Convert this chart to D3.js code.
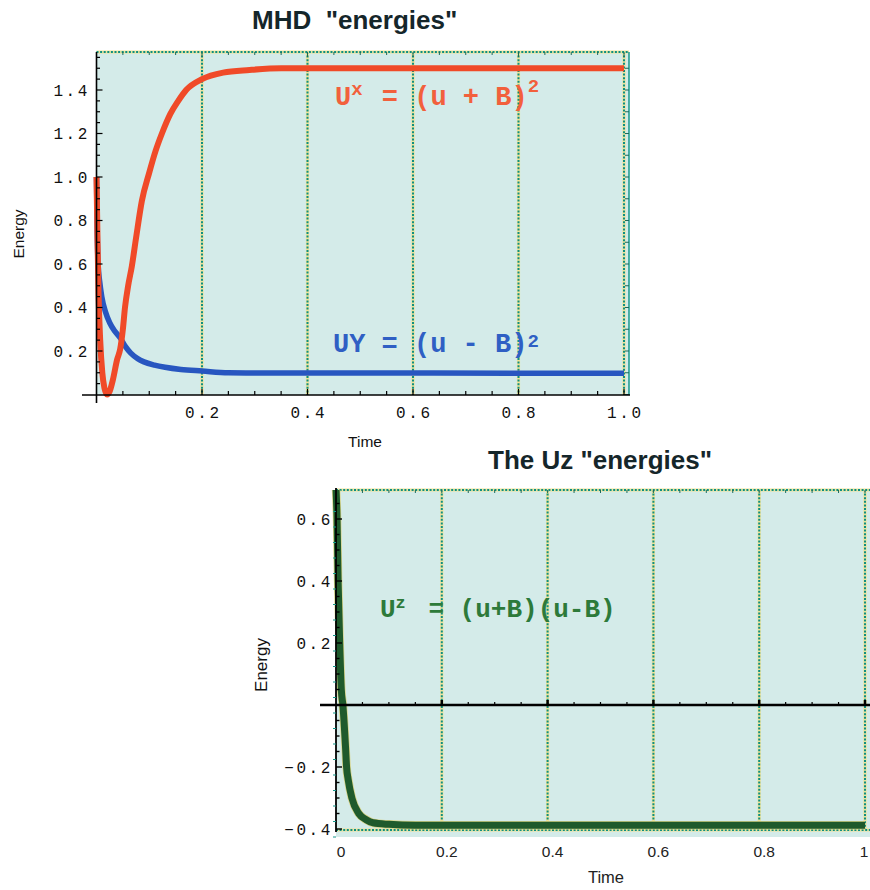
<!DOCTYPE html>
<html>
<head>
<meta charset="utf-8">
<script src="https://cdn.jsdelivr.net/npm/d3@7"></script>
<style>
  html, body { margin: 0; padding: 0; background: #ffffff; }
  svg { display: block; }
  text { white-space: pre; }
</style>
</head>
<body>
<svg id="chart" width="870" height="890"></svg>
<script>
// ---------------- DATA ----------------
// Top chart: MHD "energies"
const redTime   = [0, 0.002, 0.004, 0.007, 0.011, 0.015, 0.02, 0.025, 0.031, 0.039, 0.045, 0.05, 0.054, 0.06, 0.067, 0.075, 0.086, 0.1, 0.112, 0.124, 0.14, 0.155, 0.17, 0.2, 0.24, 0.29, 0.35, 0.5, 1.0];
const redEnergy = [1.0, 0.7, 0.45, 0.25, 0.1, 0.03, 0.0, 0.015, 0.067, 0.16, 0.21, 0.3, 0.4, 0.5, 0.59, 0.72, 0.89, 1.02, 1.12, 1.2, 1.29, 1.35, 1.4, 1.45, 1.48, 1.492, 1.5, 1.5, 1.5];

const blueTime   = [0, 0.001, 0.003, 0.006, 0.01, 0.017, 0.025, 0.035, 0.045, 0.055, 0.065, 0.078, 0.09, 0.11, 0.13, 0.16, 0.2, 0.25, 0.3, 1.0];
const blueEnergy = [1.0, 0.8, 0.6, 0.52, 0.45, 0.38, 0.33, 0.29, 0.26, 0.22, 0.19, 0.165, 0.15, 0.135, 0.125, 0.115, 0.108, 0.1, 0.099, 0.098];

const topYTicks = [0.2, 0.4, 0.6, 0.8, 1.0, 1.2, 1.4];
const topYLabels = ["0.2", "0.4", "0.6", "0.8", "1.0", "1.2", "1.4"];
const topXTicks = [0.2, 0.4, 0.6, 0.8, 1.0];
const topXLabels = ["0.2", "0.4", "0.6", "0.8", "1.0"];

// Bottom chart: The Uz "energies"
const greenTime   = [0, 0.002, 0.004, 0.007, 0.01, 0.013, 0.018, 0.02, 0.023, 0.03, 0.043, 0.057, 0.07, 0.1, 0.15, 1.0];
const greenEnergy = [0.7, 0.6, 0.4, 0.2, 0.05, 0.0, -0.135, -0.2, -0.24, -0.3, -0.35, -0.37, -0.38, -0.385, -0.388, -0.388];

const botYTicks = [-0.4, -0.2, 0.2, 0.4, 0.6];
const botYLabels = ["\u22120.4", "\u22120.2", "0.2", "0.4", "0.6"];
const botXTicks = [0, 0.2, 0.4, 0.6, 0.8, 1.0];
const botXLabels = ["0", "0.2", "0.4", "0.6", "0.8", "1"];

// ---------------- STYLE ----------------
const BG = "#d4ebe9";
const MONO = "'Liberation Mono', 'DejaVu Sans Mono', monospace";
const SANS = "'Liberation Sans', Arial, sans-serif";
const RED = "#f04a28", BLUE = "#2856c0", GREEN = "#1f5a2c";

const svg = d3.select("#chart");

function dotted(g, x1, y1, x2, y2) {
  g.append("line").attr("x1", x1).attr("y1", y1).attr("x2", x2).attr("y2", y2)
    .attr("stroke", "#efe39a").attr("stroke-width", 3.2);
  g.append("line").attr("x1", x1).attr("y1", y1).attr("x2", x2).attr("y2", y2)
    .attr("stroke", "#0d8f82").attr("stroke-width", 2).attr("stroke-dasharray", "2,1.6");
}

// ================= TOP CHART =================
{
  const x = d3.scaleLinear().domain([0, 1]).range([96.5, 624]);
  const y = d3.scaleLinear().domain([0, 1.4]).range([394.5, 90]);
  const L = 96.5, R = 629, T = 52, B = 395;
  const g = svg.append("g");

  g.append("rect").attr("x", L).attr("y", T).attr("width", R - L).attr("height", B - T).attr("fill", BG);

  // vertical dotted gridlines
  topXTicks.forEach(t => dotted(g, x(t), T, x(t), B));
  // top dotted frame
  dotted(g, L, T, R, T);
  // top frame ticks
  d3.range(0, 1.0001, 0.05).forEach(t => {
    const major = Math.abs(t * 5 - Math.round(t * 5)) < 1e-6;
    g.append("line").attr("x1", x(t)).attr("x2", x(t)).attr("y1", T).attr("y2", T + (major ? 5 : 3))
      .attr("stroke", "#1c6a5a").attr("stroke-width", 1);
  });
  // right frame
  g.append("line").attr("x1", R).attr("x2", R).attr("y1", T).attr("y2", B)
    .attr("stroke", "#15978a").attr("stroke-width", 1.5);
  d3.range(0, 1.5001, 0.1).forEach(v => {
    g.append("line").attr("x1", R).attr("x2", R - 4).attr("y1", y(v)).attr("y2", y(v))
      .attr("stroke", "#1c6a5a").attr("stroke-width", 1);
  });

  // lines
  const line = d3.line().curve(d3.curveMonotoneX);
  g.append("path")
    .attr("d", line(blueTime.map((t, i) => [x(t), y(blueEnergy[i])])))
    .attr("fill", "none").attr("stroke", BLUE).attr("stroke-width", 5.5);
  g.append("path")
    .attr("d", line(redTime.map((t, i) => [x(t), y(redEnergy[i])])))
    .attr("fill", "none").attr("stroke", RED).attr("stroke-width", 6);

  // axes
  g.append("line").attr("x1", 82).attr("x2", R + 1).attr("y1", B).attr("y2", B)
    .attr("stroke", "#000").attr("stroke-width", 1.6);
  g.append("line").attr("x1", L).attr("x2", L).attr("y1", T).attr("y2", 403)
    .attr("stroke", "#000").attr("stroke-width", 1.6);
  d3.range(0.05, 1.0001, 0.05).forEach(t => {
    const major = Math.abs(t * 5 - Math.round(t * 5)) < 1e-6;
    g.append("line").attr("x1", x(t)).attr("x2", x(t)).attr("y1", B).attr("y2", B - (major ? 6 : 4))
      .attr("stroke", "#000").attr("stroke-width", 1.2);
  });
  d3.range(0.05, 1.5501, 0.05).forEach(v => {
    const major = Math.abs(v * 5 - Math.round(v * 5)) < 1e-6;
    g.append("line").attr("y1", y(v)).attr("y2", y(v)).attr("x1", L).attr("x2", L + (major ? 6 : 3.5))
      .attr("stroke", "#000").attr("stroke-width", 1.2);
  });

  // tick labels
  g.selectAll(".yl").data(topYTicks).enter().append("text")
    .attr("x", 90).attr("y", d => y(d) + 5.5)
    .attr("text-anchor", "end").attr("font-family", MONO).attr("font-size", 16)
    .attr("letter-spacing", 2.6).attr("fill", "#111")
    .text((d, i) => topYLabels[i]);
  g.selectAll(".xl").data(topXTicks).enter().append("text")
    .attr("x", d => x(d) + 1.3).attr("y", 418)
    .attr("text-anchor", "middle").attr("font-family", MONO).attr("font-size", 16)
    .attr("letter-spacing", 2.6).attr("fill", "#111")
    .text((d, i) => topXLabels[i]);

  // axis titles
  g.append("text").attr("x", 365).attr("y", 447).attr("text-anchor", "middle")
    .attr("font-family", SANS).attr("font-size", 15.5).attr("fill", "#111").text("Time");
  g.append("text").attr("transform", "translate(24,234) rotate(-90)").attr("text-anchor", "middle")
    .attr("font-family", SANS).attr("font-size", 15.5).attr("fill", "#111").text("Energy");

  // title
  g.append("text").attr("x", 252).attr("y", 29)
    .attr("font-family", SANS).attr("font-weight", "bold").attr("font-size", 26).attr("fill", "#15262a")
    .text('MHD  "energies"');

  // annotations
  const tr = g.append("text").attr("x", 335).attr("y", 105)
    .attr("font-family", MONO).attr("font-weight", "bold").attr("fill", "#f2603c");
  tr.append("tspan").attr("font-size", 27).text("U");
  tr.append("tspan").attr("font-size", 19).attr("dy", -10).text("x");
  tr.append("tspan").attr("font-size", 27).attr("dy", 10).attr("dx", 3).text(" = (u + B)");
  tr.append("tspan").attr("font-size", 19).attr("dy", -13).text("2");

  const tb = g.append("text").attr("x", 333).attr("y", 352)
    .attr("font-family", MONO).attr("font-weight", "bold").attr("fill", "#2f5fc4");
  tb.append("tspan").attr("font-size", 27).text("UY = (u - B)");
  tb.append("tspan").attr("font-size", 19).attr("dy", -5).text("2");
}

// ================= BOTTOM CHART =================
{
  const x = d3.scaleLinear().domain([0, 1]).range([336, 865]);
  const y = d3.scaleLinear().domain([-0.4, 0.6]).range([829, 519]);
  const L = 336, R = 872, T = 490, B = 837;
  const g = svg.append("g");

  g.append("rect").attr("x", L).attr("y", T).attr("width", R - L).attr("height", B - T).attr("fill", BG);

  botXTicks.filter(t => t > 0).forEach(t => dotted(g, x(t), T, x(t), 830));
  dotted(g, L, T, R, T);
  dotted(g, L, 830, R, 830);
  d3.range(0, 1.0001, 0.05).forEach(t => {
    g.append("line").attr("x1", x(t)).attr("x2", x(t)).attr("y1", T).attr("y2", T + 3)
      .attr("stroke", "#1c6a5a").attr("stroke-width", 1);
  });

  const clipId = "clipB";
  svg.append("defs").append("clipPath").attr("id", clipId)
    .append("rect").attr("x", 300).attr("y", T).attr("width", 600).attr("height", B - T);

  const line = d3.line().curve(d3.curveMonotoneX);
  g.append("path")
    .attr("clip-path", `url(#${clipId})`)
    .attr("d", line(greenTime.map((t, i) => [x(t), y(greenEnergy[i])])))
    .attr("fill", "none").attr("stroke", "#d8d488").attr("stroke-width", 8.5);
  g.append("path")
    .attr("clip-path", `url(#${clipId})`)
    .attr("d", line(greenTime.map((t, i) => [x(t), y(greenEnergy[i])])))
    .attr("fill", "none").attr("stroke", GREEN).attr("stroke-width", 7);

  // zero line
  g.append("line").attr("x1", 320).attr("x2", 872).attr("y1", y(0)).attr("y2", y(0))
    .attr("stroke", "#000").attr("stroke-width", 2.4);
  d3.range(0.05, 1.0001, 0.05).forEach(t => {
    const major = Math.abs(t * 5 - Math.round(t * 5)) < 1e-6;
    g.append("line").attr("x1", x(t)).attr("x2", x(t)).attr("y1", y(0)).attr("y2", y(0) - (major ? 5 : 3))
      .attr("stroke", "#000").attr("stroke-width", major ? 2.5 : 1.2);
  });
  // left axis
  g.append("line").attr("x1", L).attr("x2", L).attr("y1", 488).attr("y2", 832)
    .attr("stroke", "#000").attr("stroke-width", 1.8);
  d3.range(-0.4, 0.6501, 0.05).forEach(v => {
    const major = Math.abs(v * 5 - Math.round(v * 5)) < 1e-6;
    g.append("line").attr("y1", y(v)).attr("y2", y(v)).attr("x1", L).attr("x2", L + (major ? 6 : 3.5))
      .attr("stroke", "#000").attr("stroke-width", 1.4);
    g.append("line").attr("y1", y(v) + 8).attr("y2", y(v) + 8).attr("x1", L).attr("x2", L - 3)
      .attr("stroke", "#15978a").attr("stroke-width", 1);
  });

  g.selectAll(".yl").data(botYTicks).enter().append("text")
    .attr("x", 333).attr("y", d => y(d) + 5.5)
    .attr("text-anchor", "end").attr("font-family", MONO).attr("font-size", 16)
    .attr("letter-spacing", 2.6).attr("fill", "#111")
    .text((d, i) => botYLabels[i]);
  g.selectAll(".xl").data(botXTicks).enter().append("text")
    .attr("x", d => Math.min(x(d) + 5, 864)).attr("y", 857)
    .attr("text-anchor", "middle").attr("font-family", SANS).attr("font-size", 15.5)
    .attr("fill", "#222")
    .text((d, i) => botXLabels[i]);

  g.append("text").attr("x", 606).attr("y", 883).attr("text-anchor", "middle")
    .attr("font-family", SANS).attr("font-size", 16.5).attr("fill", "#222").text("Time");
  g.append("text").attr("transform", "translate(267,665) rotate(-90)").attr("text-anchor", "middle")
    .attr("font-family", SANS).attr("font-size", 17).attr("fill", "#111").text("Energy");

  g.append("text").attr("x", 488).attr("y", 469)
    .attr("font-family", SANS).attr("font-weight", "bold").attr("font-size", 26).attr("fill", "#15262a")
    .text('The Uz "energies"');

  const tg = g.append("text").attr("x", 380).attr("y", 617)
    .attr("font-family", MONO).attr("font-weight", "bold").attr("fill", "#2d7a3a");
  tg.append("tspan").attr("font-size", 26).text("U");
  tg.append("tspan").attr("font-size", 17).attr("dy", -9).text("z");
  tg.append("tspan").attr("font-size", 26).attr("dy", 9).attr("dx", 7).text(" = (u+B)(u-B)");
}
</script>
</body>
</html>
